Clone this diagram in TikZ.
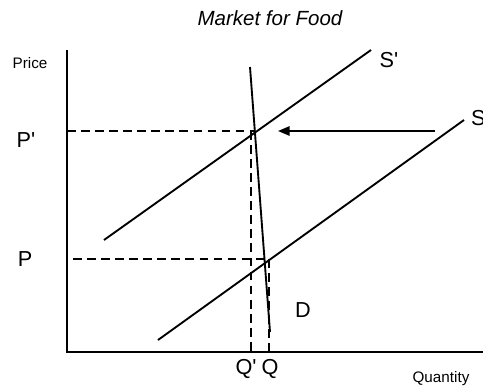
\documentclass[tikz,border=0pt]{standalone}
\usepackage{fontspec}
\setmainfont{Liberation Sans}
\usetikzlibrary{arrows.meta}

\begin{document}
\begin{tikzpicture}[x=0.03cm, y=-0.03cm, >={Triangle[length=10pt, width=8pt]},
  curve/.style={line width=1.6pt},
  guide/.style={line width=1.4pt, dash pattern=on 7.5pt off 4.5pt},
  big/.style={font=\fontsize{18.5}{20}\selectfont},
  small/.style={font=\fontsize{13}{14}\selectfont}]
  \useasboundingbox (0,0) rectangle (483,387);

  % Axes
  \coordinate (top) at (67,50);
  \coordinate (orig) at (67,352);
  \coordinate (right) at (483,352);
  \draw[curve] (top) -- (orig) -- (right);

  % Supply, new supply and demand
  \coordinate (s1) at (158,340);  \coordinate (s2) at (464,120);
  \coordinate (n1) at (104,240);  \coordinate (n2) at (371,50);
  \coordinate (d1) at (250,67);   \coordinate (d2) at (270,332);
  \draw[curve] (s1) -- (s2);
  \draw[curve] (n1) -- (n2);
  \draw[curve] (d1) -- (d2);

  % Equilibrium points and guides
  \coordinate (pa) at (67,131);   \coordinate (ea) at (255,131);
  \coordinate (pb) at (73,259);   \coordinate (eb) at (271,259);
  \coordinate (qa) at (251,352);  \coordinate (qat) at (251,131);
  \coordinate (qb) at (269,352);  \coordinate (qbt) at (269,259);
  \draw[guide] (pa) -- (ea);
  \draw[guide] (pb) -- (eb);
  \draw[guide] (qat) -- (qa);
  \draw[guide] (qbt) -- (qb);

  % Shift of supply
  \coordinate (from) at (435,131);
  \coordinate (to) at (278,131);
  \draw[->, line width=1.6pt] (from) -- (to);

  % Labels
  \node[font=\fontsize{17.5}{20}\selectfont\itshape] (title) at (270,18) {Market for Food};
  \node[small] (price) at (30,63) {Price};
  \node[small] (qty) at (441,379) {Quantity};
  \node[big] (lpa) at (26,140) {P\textquotesingle};
  \node[big] (lpb) at (25,259) {P};
  \node[big] (lqa) at (246,369) {Q\textquotesingle};
  \node[big] (lqb) at (270,369) {Q};
  \node[big] (ld) at (303,310) {D};
  \node[big] (ln) at (389,60) {S\textquotesingle};
  \node[big, anchor=west] (ls) at (467,118) {S};
\end{tikzpicture}
\end{document}
